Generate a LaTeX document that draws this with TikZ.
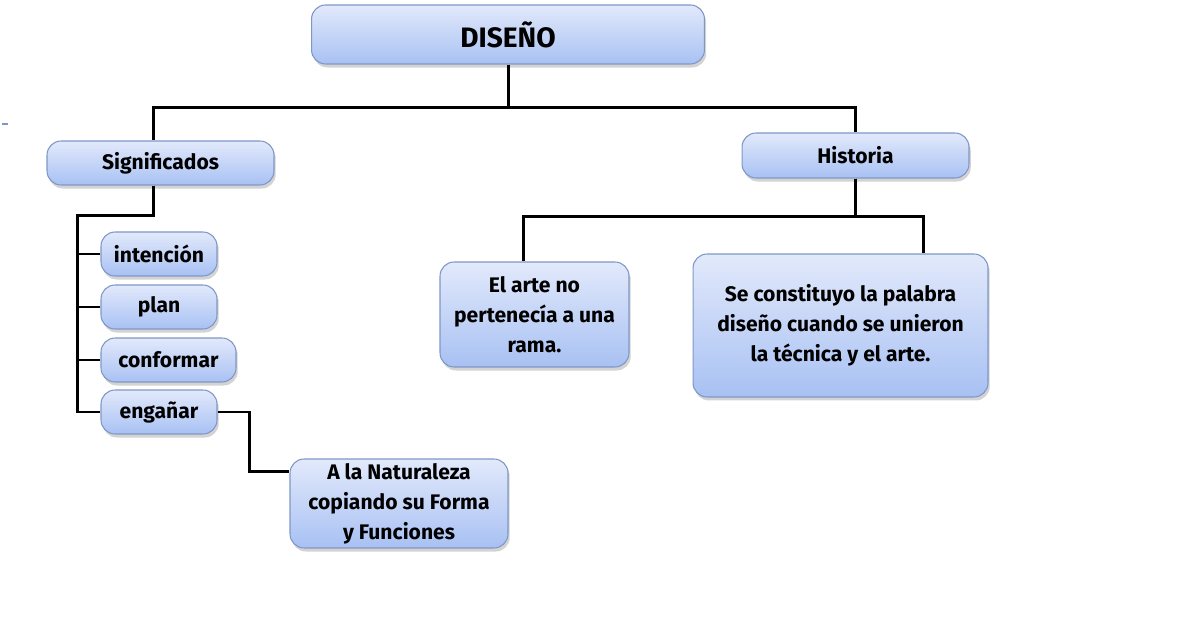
\documentclass[tikz,border=0pt]{standalone}
\usepackage{fontspec}
\setmainfont{Fira Sans}
\usepackage{tikz}
\usetikzlibrary{shadows}
\usetikzlibrary{calc}
\definecolor{cajaarriba}{HTML}{E2E9FB}
\definecolor{cajaabajo}{HTML}{A8C1F3}
\definecolor{cajaborde}{HTML}{7F97C6}
\tikzset{
    caja/.style={rectangle, rounded corners=8pt, draw=cajaborde, line width=0.6pt,
        top color=cajaarriba, bottom color=cajaabajo, align=center, inner sep=2pt,
        drop shadow={shadow xshift=1pt, shadow yshift=-2pt, opacity=0.35, fill=gray},
        font=\bfseries\fontsize{12}{17}\selectfont},
    rama/.style={line width=1.7pt, black}}

\begin{document}
\begin{tikzpicture}[x=0.02cm, y=-0.02cm]

            \useasboundingbox (0,0) rectangle (1189,641);

            \node[caja, minimum width=7.86cm, minimum height=1.18cm, font=\bfseries\fontsize{16}{19}\selectfont] (diseno) at (508,34.5) {DISEÑO};
            \node[caja, minimum width=4.54cm, minimum height=0.88cm] (signif) at (160.5,163) {Significados};
            \node[caja, minimum width=4.54cm, minimum height=0.9cm] (historia) at (855.5,155.5) {Historia};

            \node[caja, minimum width=2.32cm, minimum height=0.88cm] (intencion) at (159,254) {intención};
            \node[caja, minimum width=2.32cm, minimum height=0.88cm] (plan) at (159,307) {plan};
            \node[caja, minimum width=2.7cm, minimum height=0.88cm] (conformar) at (168.5,360) {conformar};
            \node[caja, minimum width=2.32cm, minimum height=0.88cm] (enganar) at (159,412) {engañar};
            \node[caja, minimum width=4.36cm, minimum height=1.78cm] (naturaleza) at (399,503.5) {A la Naturaleza\\copiando su Forma\\y Funciones};

            \node[caja, minimum width=3.78cm, minimum height=2.1cm] (arte) at (534.5,314.5) {El arte no\\pertenecía a una\\rama.};
            \node[caja, minimum width=5.9cm, minimum height=2.86cm] (constituyo) at (840.5,325.5) {Se constituyo la palabra\\diseño cuando se unieron\\la técnica y el arte.};

            % ramas de DISEÑO
            \draw[rama] (diseno.south) -- ++(0,43) -| ($(signif.north)+(-7,0)$);
            \draw[rama] (diseno.south) -- ++(0,43) -| (historia.north);

            % ramas de Significados
            \draw[rama] ($(signif.south)+(-7,0)$) -- ++(0,30) -| ($(enganar.west)+(-23,0)$) -- (enganar.west);
            \draw[rama] (intencion.west) -- ++(-23,0);
            \draw[rama] (plan.west) -- ++(-23,0);
            \draw[rama] (conformar.west) -- ++(-23,0);
            \draw[rama] (enganar.east) -- ++(32,0) |- ($(naturaleza.north west)!0.15!(naturaleza.south west)$);

            % ramas de Historia
            \draw[rama] (historia.south) -- ++(0,38) -| ($(arte.north west)!0.44!(arte.north east)$);
            \draw[rama] (historia.south) -- ++(0,38) -| ($(constituyo.north west)!0.78!(constituyo.north east)$);

            \draw[cajaborde, line width=0.6pt] (2,124) -- (8,124);

        \end{tikzpicture}
\end{document}
